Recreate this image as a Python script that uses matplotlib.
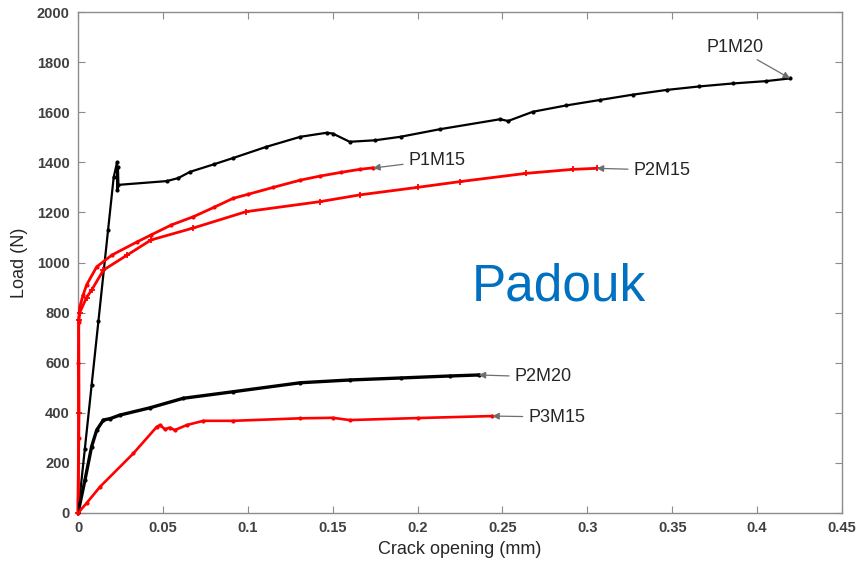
import matplotlib
matplotlib.use("Agg")
import matplotlib.pyplot as plt

plt.rcParams['font.family'] = ['Liberation Sans', 'DejaVu Sans']

# ---- data ----
p1m20_x = [0.0, 0.004, 0.008, 0.012, 0.0177, 0.021, 0.023, 0.0232, 0.0235, 0.0238, 0.0522, 0.059,
           0.066, 0.08, 0.0913, 0.111, 0.131, 0.1465, 0.150, 0.160, 0.175, 0.190, 0.213, 0.2486,
           0.2533, 0.268, 0.2875, 0.3075, 0.3267, 0.3467, 0.366, 0.386, 0.405, 0.4194]
p1m20_y = [0, 255, 510, 765, 1130, 1340, 1400, 1290, 1380, 1310, 1325, 1337,
           1362, 1392, 1417, 1462, 1502, 1518, 1515, 1482, 1488, 1502, 1532, 1572,
           1565, 1602, 1627, 1649, 1670, 1689, 1703, 1715, 1724, 1735]

p1m15_x = [0.0, 0.0003, 0.0002, 0.0004, 0.001, 0.003, 0.005, 0.011, 0.02, 0.035, 0.043, 0.055,
           0.068, 0.08, 0.0913, 0.1, 0.115, 0.131, 0.1425, 0.155, 0.166, 0.1738]
p1m15_y = [0, 300, 600, 764, 822, 870, 910, 983, 1030, 1083, 1110, 1150,
           1183, 1220, 1256, 1272, 1300, 1329, 1345, 1360, 1372, 1378]

p2m15_x = [0.0, 0.0006, 0.0004, 0.001, 0.005, 0.008, 0.015, 0.029, 0.043, 0.068, 0.099, 0.1425,
           0.166, 0.2, 0.225, 0.264, 0.2917, 0.3055]
p2m15_y = [0, 400, 770, 800, 860, 890, 970, 1030, 1090, 1138, 1203, 1243,
           1270, 1300, 1323, 1356, 1372, 1376]

p2m20_x = [0.0, 0.0041, 0.008, 0.011, 0.0149, 0.019, 0.0247, 0.0424, 0.062, 0.0913, 0.131,
           0.16, 0.19, 0.219, 0.236]
p2m20_y = [0, 132, 265, 331, 371, 377, 391, 420, 458, 484, 520,
           531, 539, 547, 551]

p3m15_x = [0.0, 0.005, 0.013, 0.0326, 0.0464, 0.0483, 0.0512, 0.054, 0.057, 0.064, 0.0738,
           0.0913, 0.131, 0.15, 0.16, 0.2, 0.244]
p3m15_y = [0, 39, 105, 238, 344, 351, 334, 341, 331, 351, 368,
           368, 378, 380, 371, 379, 387]

x_ticks = [0, 0.05, 0.1, 0.15, 0.2, 0.25, 0.3, 0.35, 0.4, 0.45]
x_tick_labels = ['0', '0.05', '0.1', '0.15', '0.2', '0.25', '0.3', '0.35', '0.4', '0.45']
y_ticks = [0, 200, 400, 600, 800, 1000, 1200, 1400, 1600, 1800, 2000]

labels = ['P1M20', 'P1M15', 'P2M15', 'P2M20', 'P3M15']
label_text_pos = [(0.387, 1860), (0.2115, 1409), (0.344, 1369), (0.274, 543), (0.282, 383)]
label_arrow_tip = [(0.4194, 1735), (0.1738, 1377), (0.3055, 1376), (0.236, 551), (0.244, 387)]

# ---- figure ----
fig = plt.figure(figsize=(8.65, 5.62), dpi=100)
ax = fig.add_axes([0.0902, 0.0872, 0.8832, 0.8914])

ax.plot(p1m20_x, p1m20_y, color='black', lw=1.6, marker='.', ms=4, zorder=3)
ax.plot(p1m15_x, p1m15_y, color='red', lw=2.0, marker='.', ms=4, clip_on=False, zorder=3)
ax.plot(p2m15_x, p2m15_y, color='red', lw=2.0, marker='+', ms=4, mew=1.3, clip_on=False, zorder=3)
ax.plot(p2m20_x, p2m20_y, color='black', lw=2.4, marker='.', ms=4, zorder=3)
ax.plot(p3m15_x, p3m15_y, color='red', lw=1.9, marker='.', ms=4, zorder=3)

for lab, tp, tip in zip(labels, label_text_pos, label_arrow_tip):
    ax.annotate(lab, xy=tip, xytext=tp, ha='center', va='center',
                fontsize=13, color='#262626',
                arrowprops=dict(arrowstyle='-|>', color='#6e6e6e', lw=0.9,
                                mutation_scale=10, shrinkA=2, shrinkB=0))

ax.text(0.283, 902, 'Padouk', color='#0070C0', fontsize=37, ha='center', va='center')

ax.set_xlim(0, 0.45)
ax.set_ylim(0, 2000)
ax.set_xticks(x_ticks)
ax.set_xticklabels(x_tick_labels)
ax.set_yticks(y_ticks)

for s in ax.spines.values():
    s.set_color('#8c8c8c')
    s.set_linewidth(1.0)
ax.tick_params(direction='in', top=True, right=True, length=5, width=0.8,
               color='#8c8c8c', labelsize=10.5, labelcolor='#404040', pad=6)
for t in ax.get_xticklabels() + ax.get_yticklabels():
    t.set_fontweight('bold')

ax.set_xlabel('Crack opening (mm)', fontsize=13, color='#262626', labelpad=4)
ax.set_ylabel('Load (N)', fontsize=13, color='#262626', labelpad=6)

fig.savefig('out.png', dpi=100)
